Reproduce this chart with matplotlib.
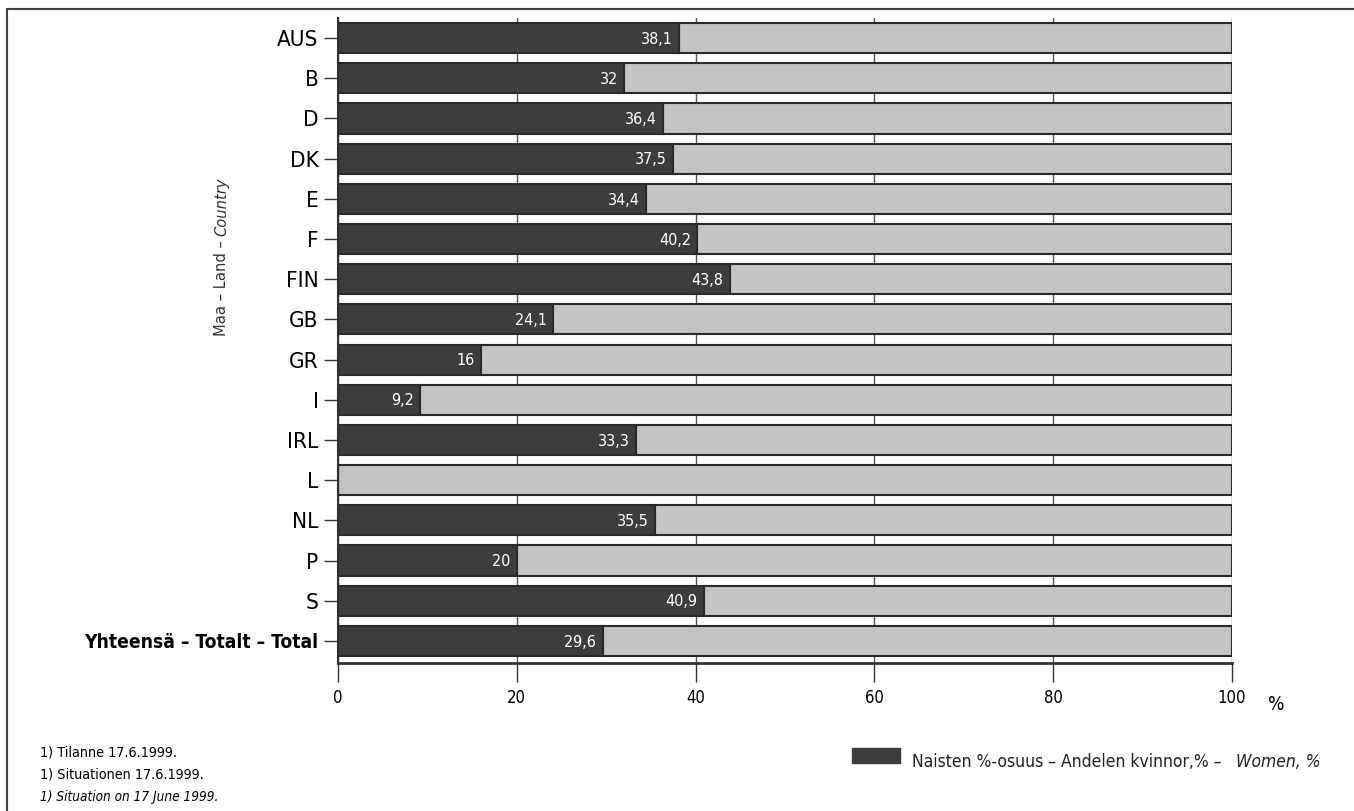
import numpy as np
import matplotlib.pyplot as plt
from matplotlib import font_manager as fm

countries = ['AUS', 'B', 'D', 'DK', 'E', 'F', 'FIN', 'GB', 'GR', 'I', 'IRL', 'L',
             'NL', 'P', 'S', 'Yhteensä – Totalt – Total']
women = [38.1, 32, 36.4, 37.5, 34.4, 40.2, 43.8, 24.1, 16, 9.2, 33.3, None,
         35.5, 20, 40.9, 29.6]
labels = ['38,1', '32', '36,4', '37,5', '34,4', '40,2', '43,8', '24,1', '16', '9,2',
          '33,3', '', '35,5', '20', '40,9', '29,6']
xticks = [0, 20, 40, 60, 80, 100]

# pick a narrow font if there is one
names = {f.name for f in fm.fontManager.ttflist}
stretch = 'normal'
if 'Liberation Sans Narrow' in names:
    FONT = ['Liberation Sans Narrow', 'DejaVu Sans']
    k = 1.0
else:
    FONT = ['DejaVu Sans']
    p = fm.findfont(fm.FontProperties(family='DejaVu Sans', stretch='condensed'))
    if 'Condensed' in p:
        stretch = 'condensed'
        k = 0.92
    else:
        k = 0.84
plt.rcParams['font.family'] = FONT
plt.rcParams['font.stretch'] = stretch

DARK = '#3d3d3d'
LIGHT = '#c4c4c4'
EDGE = '#2a2a2a'

fig = plt.figure(figsize=(13.54, 8.11), dpi=100)
ax = fig.add_axes([338/1354, 1-663/811, 894/1354, 645/811])

y = np.arange(len(countries))
w = np.array([v if v is not None else 0 for v in women])

ax.barh(y, 100 - w, left=w, height=0.75, color=LIGHT, edgecolor=EDGE, linewidth=1.5, zorder=2)
ax.barh(y, w, height=0.75, color=DARK, edgecolor=EDGE, linewidth=1.5, zorder=3)

for yi, v, lab in zip(y, women, labels):
    if v is None:
        continue
    ax.text(v - 0.7, yi + 0.03, lab, ha='right', va='center', color='white',
            fontsize=12.5*k, zorder=4)

ax.set_xlim(0, 100)
ax.set_ylim(len(countries) - 0.45, -0.5)
ax.set_xticks(xticks)
ax.set_xticklabels([str(t) for t in xticks], fontsize=13*k)
ax.set_yticks(y)
ax.set_yticklabels(countries, fontsize=17.5*k)
ax.get_yticklabels()[-1].set_fontweight('bold')
ax.get_yticklabels()[-1].set_fontsize(15*k)
ax.tick_params(axis='x', length=14, width=1, color='#333333', pad=5)
ax.tick_params(axis='y', length=10, width=1, color='#333333', pad=4)
ax.xaxis.grid(True, color='#555555', linewidth=1, zorder=0)
ax.set_axisbelow(True)
for s in ['top', 'right']:
    ax.spines[s].set_visible(False)
ax.spines['left'].set_color('#333333')
ax.spines['bottom'].set_color('#333333')
ax.spines['left'].set_linewidth(1.5)
ax.spines['bottom'].set_linewidth(2)

fig.text(1276/1354, 1-704/811, '%', fontsize=15*k, ha='center', va='center')

# y-axis label with italic part
renderer = fig.canvas.get_renderer()
t1 = fig.text(222/1354, 1-336/811, 'Maa – Land – ', rotation=90, fontsize=12.8*k,
              ha='center', va='bottom', color='#333333')
bb = t1.get_window_extent(renderer)
fig.text(222/1354, bb.y1/fig.bbox.height, 'Country', rotation=90, fontsize=12.8*k,
         ha='center', va='bottom', style='italic', color='#333333')

# legend
fig.patches.append(plt.Rectangle((852/1354, 1-763/811), 48/1354, 15/811,
                                 transform=fig.transFigure, facecolor=DARK,
                                 edgecolor=DARK, figure=fig))
t2 = fig.text(912/1354, 1-762/811, 'Naisten %-osuus – Andelen kvinnor,% –   ',
              fontsize=13.6*k, ha='left', va='center', color='#222222')
bb = t2.get_window_extent(renderer)
fig.text(bb.x1/fig.bbox.width, 1-762/811, 'Women, %', fontsize=13.6*k, ha='left',
         va='center', style='italic', color='#222222')

# footnotes
fig.text(40/1354, 1-752/811, '1) Tilanne 17.6.1999.', fontsize=11.2*k, va='center')
fig.text(40/1354, 1-775/811, '1) Situationen 17.6.1999.', fontsize=11.2*k, va='center')
fig.text(40/1354, 1-797/811, '1) Situation on 17 June 1999.', fontsize=10.6*k,
         va='center', style='italic')

# outer frame
fig.add_artist(plt.Line2D([7/1354, 7/1354], [0, 1-9/811], transform=fig.transFigure,
                          color='#444444', linewidth=1.5))
fig.add_artist(plt.Line2D([7/1354, 1], [1-9/811, 1-9/811], transform=fig.transFigure,
                          color='#444444', linewidth=1.5))

fig.savefig('out.png', dpi=100, facecolor='white')
